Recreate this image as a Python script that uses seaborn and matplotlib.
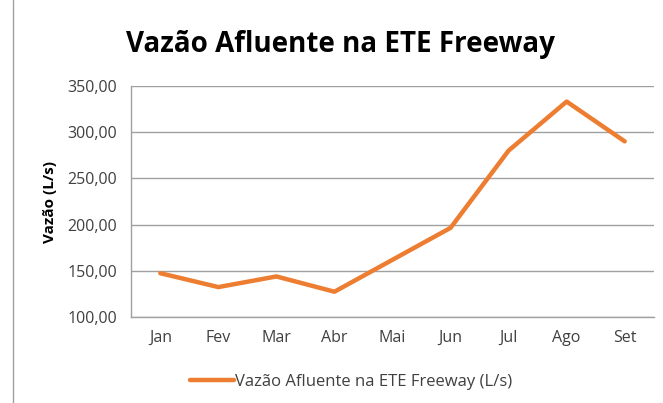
import matplotlib
matplotlib.use("Agg")
import matplotlib.pyplot as plt
import seaborn as sns
import pandas as pd
from matplotlib.lines import Line2D
from matplotlib.ticker import FuncFormatter

months = ["Jan", "Fev", "Mar", "Abr", "Mai", "Jun", "Jul", "Ago", "Set"]
vazao = [147.5, 132.5, 144.0, 127.5, 162.0, 196.5, 280.0, 333.0, 290.0]
series_name = "Vazão Afluente na ETE Freeway (L/s)"
yticks = [100, 150, 200, 250, 300, 350]

sns.set_theme(style="white")
plt.rcParams['font.family'] = ['Open Sans', 'DejaVu Sans']

df = pd.DataFrame({"Mês": months, "Vazão": vazao, "Série": series_name})

fig = plt.figure(figsize=(6.63, 4.03), dpi=100)
ax = fig.add_axes([0.198, 0.213, 0.788, 0.574])
sns.lineplot(data=df, x="Mês", y="Vazão", hue="Série", palette=["#ED7D31"],
             linewidth=3.2, ax=ax, sort=False)
ax.set_xlim(-0.5, len(months) - 0.5)
ax.set_ylim(100, 350)
ax.set_yticks(yticks)
ax.yaxis.set_major_formatter(FuncFormatter(lambda v, p: f"{v:.2f}".replace(".", ",")))
ax.grid(axis="y", color="#A0A0A0", linewidth=1)
ax.set_axisbelow(True)
for s in ["top", "right"]:
    ax.spines[s].set_visible(False)
for s in ["left", "bottom"]:
    ax.spines[s].set_color("#A0A0A0")
    ax.spines[s].set_linewidth(1)
ax.tick_params(axis="y", length=0, labelsize=11.5, colors="#404040", pad=10)
ax.tick_params(axis="x", length=0, labelsize=11.5, colors="#404040", pad=9)
ax.set_xlabel("")
ax.set_ylabel("Vazão (L/s)", fontsize=11, fontweight="bold", color="black", labelpad=8)

fig.text(0.513, 0.89, "Vazão Afluente na ETE Freeway", ha="center", va="center",
         fontsize=20, fontweight="bold", color="black")

leg = ax.legend(loc="center", bbox_to_anchor=(0.53, 0.052), bbox_transform=fig.transFigure,
                frameon=False, fontsize=12, handlelength=2.6, handletextpad=0.1)
for t in leg.get_texts():
    t.set_color("#404040")

fig.add_artist(Line2D([0.019, 0.019], [0, 1], transform=fig.transFigure,
                      color="#A0A0A0", linewidth=1))

fig.savefig("out.png", dpi=100, facecolor="white")
